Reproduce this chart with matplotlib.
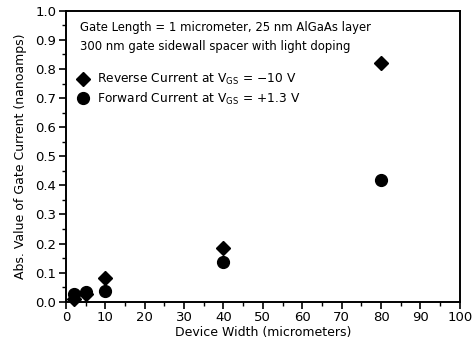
import matplotlib
matplotlib.use("Agg")
import matplotlib.pyplot as plt
from matplotlib.ticker import MultipleLocator

# Gate leakage vs. device width
widths = [2, 5, 10, 40, 80]
reverse_current = [0.010, 0.028, 0.083, 0.183, 0.820]   # V_GS = -10 V
forward_current = [0.025, 0.034, 0.037, 0.137, 0.417]   # V_GS = +1.3 V

x_ticks = [0, 10, 20, 30, 40, 50, 60, 70, 80, 90, 100]
y_ticks = [0.0, 0.1, 0.2, 0.3, 0.4, 0.5, 0.6, 0.7, 0.8, 0.9, 1.0]

plt.rcParams['font.family'] = ['DejaVu Sans']
fig = plt.figure(figsize=(4.74, 3.48), dpi=100)
ax = fig.add_axes([0.139, 0.133, 0.831, 0.836])

ax.plot(widths, reverse_current, linestyle='none', marker='D', markersize=7,
        color='black', clip_on=False, zorder=3,
        label='Reverse Current at V$_{\\mathrm{GS}}$ = \u221210 V')
ax.plot(widths, forward_current, linestyle='none', marker='o', markersize=8.5,
        color='black', clip_on=False, zorder=4,
        label='Forward Current at V$_{\\mathrm{GS}}$ = +1.3 V')

ax.set_xlim(0, 100)
ax.set_ylim(0, 1.0)
ax.set_xticks(x_ticks)
ax.set_yticks(y_ticks)
ax.set_xticklabels([str(v) for v in x_ticks])
ax.set_yticklabels([f"{v:.1f}" for v in y_ticks])
ax.xaxis.set_minor_locator(MultipleLocator(5))
ax.yaxis.set_minor_locator(MultipleLocator(0.05))
ax.tick_params(which='major', direction='out', length=5, width=1.2, labelsize=9.5, pad=2)
ax.tick_params(which='minor', direction='out', length=3, width=1.0)
for s in ax.spines.values():
    s.set_linewidth(1.4)

ax.set_xlabel('Device Width (micrometers)', fontsize=9, labelpad=1)
ax.set_ylabel('Abs. Value of Gate Current (nanoamps)', fontsize=9, labelpad=6)

ax.text(0.035, 0.965, 'Gate Length = 1 micrometer, 25 nm AlGaAs layer\n'
        '300 nm gate sidewall spacer with light doping',
        transform=ax.transAxes, fontsize=8.4, va='top', ha='left', linespacing=1.65)

ax.legend(loc='upper left', bbox_to_anchor=(0.0, 0.815), frameon=False,
          fontsize=8.8, handletextpad=0.35, handlelength=1.6, labelspacing=0.3,
          borderaxespad=0.2)

fig.savefig('out.png', dpi=100)
